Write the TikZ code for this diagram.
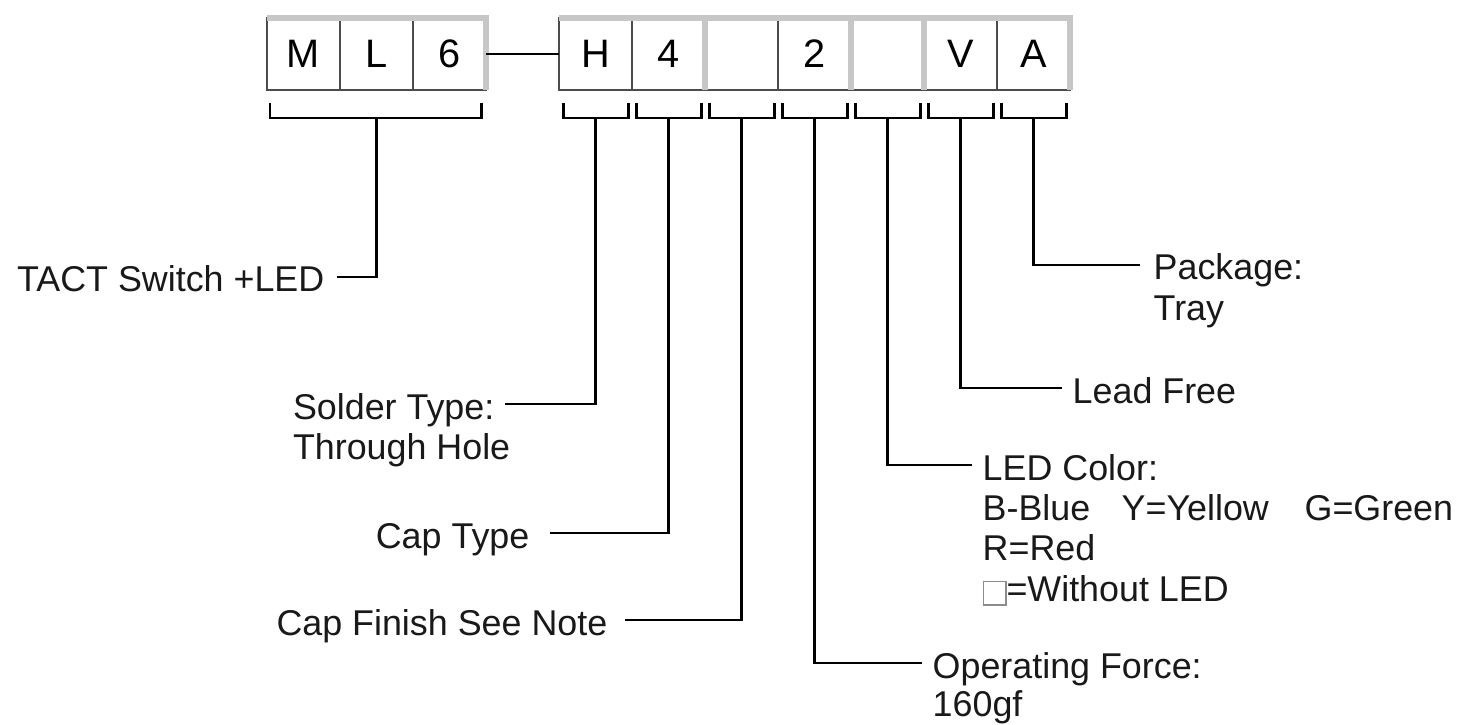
\documentclass[tikz,border=0pt]{standalone}
\usepackage{fontspec}
\setmainfont{Liberation Sans}
\usetikzlibrary{positioning}
\tikzset{
  cell/.style={draw=black!70, line width=0.6pt, minimum width=0.73cm,
               minimum height=0.72cm, inner sep=0pt, outer sep=0pt,
               font=\fontsize{11.3}{12}\selectfont},
  rim/.style={draw=black!22, line width=1.5pt},
  wire/.style={line width=0.85pt},
  link/.style={line width=0.6pt},
  lbl/.style={inner xsep=0.1cm, inner ysep=0pt, text height=0.3cm,
              text depth=0pt, text=black!90, font=\fontsize{10.2}{11}\selectfont},
}
\newcommand{\noled}{\raisebox{-0.03cm}{\setlength{\fboxsep}{0pt}%
  \fcolorbox{black!45}{white}{\rule{0pt}{0.22cm}\rule{0.21cm}{0pt}}}}

\begin{document}
\begin{tikzpicture}
  \useasboundingbox (0,0) rectangle (14.7,-7.25);
  % part number cells
  \node[cell] (cM) at (3.035,-0.54) {M};
  \node[cell, right=0pt of cM] (cL) {L};
  \node[cell, right=0pt of cL] (c6) {6};
  \node[cell] (cH) at (5.955,-0.54) {H};
  \node[cell, right=0pt of cH] (c4) {4};
  \node[cell, right=0pt of c4] (cF) {};
  \node[cell, right=0pt of cF] (c2) {2};
  \node[cell, right=0pt of c2] (cC) {};
  \node[cell, right=0pt of cC] (cV) {V};
  \node[cell, right=0pt of cV] (cA) {A};
  \draw[rim] (cM.north west) -- (c6.north east) -- (c6.south east);
  \draw[rim] (cH.north west) -- (cA.north east) -- (cA.south east);
  \foreach \c in {c4,c2,cC}
    \draw[rim] (\c.north east) -- (\c.south east);
  \draw[link] (c6.east) -- (cH.west);

  % brackets under the cells
  \draw[wire] ([xshift=0.03cm,yshift=-0.13cm]cM.south west) |- ([yshift=-0.28cm]cL.south)
    -| ([xshift=-0.05cm,yshift=-0.13cm]c6.south east);
  \foreach \c in {cH,c4,cF,c2,cC,cV,cA}
    \draw[wire] ([xshift=0.04cm,yshift=-0.13cm]\c.south west) |- ([yshift=-0.28cm]\c.south)
      -| ([xshift=-0.04cm,yshift=-0.13cm]\c.south east);

  % left labels
  \node[lbl, anchor=east, inner xsep=0.12cm] (tact) at (3.37,-2.77) {TACT Switch +LED};
  \node[lbl, anchor=east] (solder) at (5.05,-4.04) {Solder Type:};
  \node[lbl, below=0.09cm of solder.south west, anchor=north west] (solder2) {Through Hole};
  \node[lbl, anchor=east, inner xsep=0.2cm] (captype) at (5.50,-5.33) {Cap Type};
  \node[lbl, anchor=east, inner xsep=0.17cm] (capfin) at (6.25,-6.20) {Cap Finish See Note};

  % right labels
  \node[lbl, anchor=west] (force) at (9.22,-6.63) {Operating Force:};
  \node[lbl, below=0.07cm of force.south west, anchor=north west] (force2) {160gf};
  \node[lbl, anchor=west] (ledcol) at (9.72,-4.65) {LED Color:};
  \node[lbl, below=0.09cm of ledcol.south west, anchor=north west] (ledcol2)
    {\makebox[1.39cm][l]{B-Blue}\makebox[1.83cm][l]{Y=Yellow}G=Green};
  \node[lbl, below=0.09cm of ledcol2.south west, anchor=north west] (ledcol3) {R=Red};
  \node[lbl, below=0.09cm of ledcol3.south west, anchor=north west] (ledcol4) {\noled=Without LED};
  \node[lbl, anchor=west] (lead) at (10.62,-3.88) {Lead Free};
  \node[lbl, anchor=west, inner xsep=0.13cm] (pkg) at (11.40,-2.65) {Package:};
  \node[lbl, below=0.09cm of pkg.south west, anchor=north west, inner xsep=0.13cm] (pkg2) {Tray};

  % leaders
  \draw[wire] ([yshift=-0.28cm]cL.south) |- (tact.east);
  \draw[wire] ([yshift=-0.28cm]cH.south) |- (solder.east);
  \draw[wire] ([yshift=-0.28cm]c4.south) |- (captype.east);
  \draw[wire] ([yshift=-0.28cm]cF.south) |- (capfin.east);
  \draw[wire] ([yshift=-0.28cm]c2.south) |- (force.west);
  \draw[wire] ([yshift=-0.28cm]cC.south) |- (ledcol.west);
  \draw[wire] ([yshift=-0.28cm]cV.south) |- (lead.west);
  \draw[wire] ([yshift=-0.28cm]cA.south) |- (pkg.west);
\end{tikzpicture}
\end{document}
